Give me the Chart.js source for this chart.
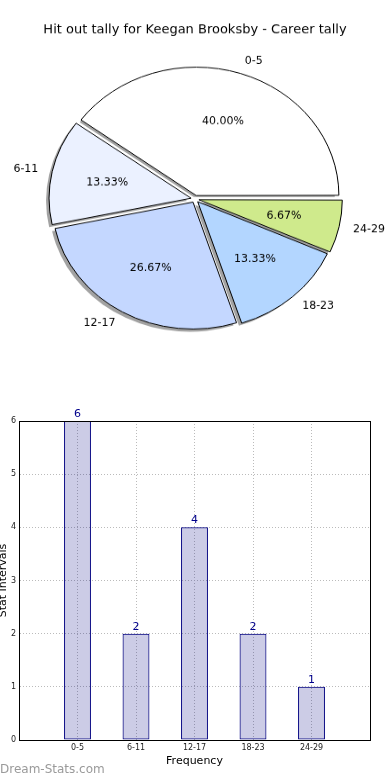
<!DOCTYPE html>
<html>
<head>
<meta charset="UTF-8">
<title>Hit out tally</title>
<script src="https://cdn.jsdelivr.net/npm/chart.js@4.4.1/dist/chart.umd.min.js"></script>
<style>
  body { margin: 0; background: #fff; }
  #wrap { position: relative; width: 390px; height: 780px; overflow: hidden; }
  canvas { position: absolute; display: block; }
  #mark { position: absolute; left: 0; top: 762px; font: 12px "DejaVu Sans", sans-serif; color: #9a9a9a; }
</style>
</head>
<body>
<div id="wrap">
	<canvas id="pieChart" width="390" height="411" style="left:0;top:0;width:390px;height:370px"></canvas>
	<canvas id="barChart" width="393" height="400" style="left:-3px;top:380px;width:393px;height:400px"></canvas>
	<div id="mark">Dream-Stats.com</div>
</div>

<script>
	const titleText = 'Hit out tally for Keegan Brooksby - Career tally';
	const categories = ['0-5', '6-11', '12-17', '18-23', '24-29'];
	const tally = [6, 2, 4, 2, 1];
	const sliceColors = ['#ffffff', '#ebf1ff', '#c4d7ff', '#b3d6ff', '#cfea8c'];
	const yTicks = [0, 1, 2, 3, 4, 5, 6];

	const FONT = '"DejaVu Sans", sans-serif';
	const SY = 370 / 411; // pie canvas is squashed vertically, like the original ellipse

	// matplotlib goes counter clockwise from east, chart.js clockwise -> reverse
	const pieLabels = categories.slice().reverse();
	const pieValues = tally.slice().reverse();
	const pieColors = sliceColors.slice().reverse();
	const total = tally.reduce((a, b) => a + b, 0);

	function drawText(ctx, s, x, y, align) {
		ctx.save();
		ctx.translate(x, y);
		ctx.scale(1, 1 / SY);
		ctx.textAlign = align;
		ctx.textBaseline = 'middle';
		ctx.fillText(s, 0, 0);
		ctx.restore();
	}

	// where chart.js really puts an exploded slice
	function sliceGeom(arc) {
		const p = arc.getProps(['x', 'y', 'startAngle', 'endAngle', 'outerRadius', 'circumference'], true);
		const mid = (p.startAngle + p.endAngle) / 2;
		const fix = 1 - Math.sin(Math.min(Math.PI, p.circumference));
		const shift = (arc.options.offset / 4) * (1 + fix);
		return {
			cx: p.x + Math.cos(mid) * shift,
			cy: p.y + Math.sin(mid) * shift,
			r: p.outerRadius, mid: mid, start: p.startAngle, end: p.endAngle
		};
	}

	const pieDeco = {
		id: 'pieDeco',
		beforeDatasetsDraw(chart) {
			// flat shadows under all slices, offset left/down
			const ctx = chart.ctx;
			ctx.save();
			ctx.fillStyle = 'rgba(70,70,70,0.5)';
			chart.getDatasetMeta(0).data.forEach(function(arc) {
				const g = sliceGeom(arc);
				ctx.beginPath();
				ctx.moveTo(g.cx - 3, g.cy + 3);
				ctx.arc(g.cx - 3, g.cy + 3, g.r, g.start, g.end);
				ctx.closePath();
				ctx.fill();
			});
			ctx.restore();
		},
		afterDraw(chart) {
			const ctx = chart.ctx;
			ctx.fillStyle = '#000';
			ctx.font = '13px ' + FONT;
			drawText(ctx, titleText, 195, 30 / SY, 'center');
			ctx.font = '11px ' + FONT;
			chart.getDatasetMeta(0).data.forEach(function(arc, i) {
				const g = sliceGeom(arc);
				const c = Math.cos(g.mid), s = Math.sin(g.mid);
				drawText(ctx, pieLabels[i], g.cx + c * g.r * 1.1, g.cy + s * g.r * 1.1, c > 0 ? 'left' : 'right');
				const pct = (pieValues[i] / total * 100).toFixed(2) + '%';
				drawText(ctx, pct, g.cx + c * g.r * 0.6, g.cy + s * g.r * 0.6, 'center');
			});
		}
	};

	new Chart('pieChart', {
		type: 'pie',
		data: {
			labels: pieLabels,
			datasets: [{
				data: pieValues,
				backgroundColor: pieColors,
				borderColor: '#000',
				borderWidth: 1,
				offset: 16
			}]
		},
		options: {
			responsive: false,
			animation: false,
			rotation: 90,
			layout: { padding: { left: 45.5, right: 45.5, top: 71.5, bottom: 40.5 } },
			plugins: { legend: { display: false }, tooltip: { enabled: false } }
		},
		plugins: [pieDeco]
	});

	const barDeco = {
		id: 'barDeco',
		afterDatasetsDraw(chart) {
			const ctx = chart.ctx;
			const meta = chart.getDatasetMeta(0);
			ctx.save();
			ctx.fillStyle = '#00008b';
			ctx.font = '11px ' + FONT;
			ctx.textAlign = 'center';
			ctx.textBaseline = 'alphabetic';
			meta.data.forEach(function(bar, i) {
				ctx.fillText(String(tally[i]), bar.x, bar.y - 4);
			});
			ctx.restore();
		},
		afterDraw(chart) {
			const a = chart.chartArea;
			const ctx = chart.ctx;
			ctx.save();
			ctx.strokeStyle = '#000';
			ctx.lineWidth = 1;
			ctx.strokeRect(Math.round(a.left) + 0.5, Math.round(a.top) + 0.5, Math.round(a.right - a.left), Math.round(a.bottom - a.top));
			ctx.restore();
		}
	};

	new Chart('barChart', {
		type: 'bar',
		data: {
			datasets: [{
				data: tally.map((v, i) => ({ x: i, y: v })),
				backgroundColor: 'rgba(0,0,128,0.2)',
				borderColor: '#000080',
				borderWidth: 1,
				borderSkipped: false,
				categoryPercentage: 1,
				barPercentage: 0.46
			}]
		},
		options: {
			responsive: false,
			animation: false,
			layout: { padding: { left: 0, right: 20, top: 41, bottom: 0 } },
			plugins: { legend: { display: false }, tooltip: { enabled: false } },
			scales: {
				x: {
					type: 'linear',
					offset: false,
					min: -1,
					max: categories.length,
					afterFit(s) { s.height = 40; },
					grid: { color: '#bbbbbb', drawTicks: false, offset: false },
					border: { display: true, color: '#000', width: 1, dash: [1, 2] },
					ticks: {
						stepSize: 1,
						padding: 3,
						color: '#222',
						font: { family: FONT, size: 8 },
						callback: (v) => categories[v] || ''
					},
					title: { display: true, text: 'Frequency', color: '#000', font: { family: FONT, size: 11 }, padding: { top: 0, bottom: 12 } }
				},
				y: {
					min: yTicks[0],
					max: yTicks[yTicks.length - 1],
					afterFit(s) { s.width = 22; },
					grid: { color: '#bbbbbb', drawTicks: false },
					border: { display: true, color: '#000', width: 1, dash: [1, 2] },
					ticks: {
						stepSize: 1,
						padding: 3,
						color: '#222',
						font: { family: FONT, size: 8 }
					},
					title: { display: true, text: 'Stat Intervals', color: '#000', font: { family: FONT, size: 11 }, padding: 0 }
				}
			}
		},
		plugins: [barDeco]
	});
</script>
</body>
</html>
